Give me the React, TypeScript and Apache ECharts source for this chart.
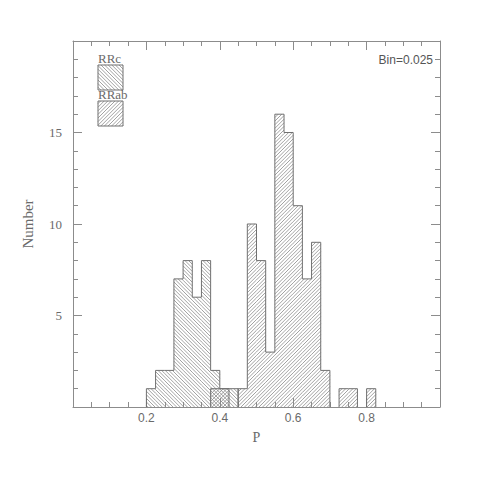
import React, { useEffect, useRef } from 'react';
import * as echarts from 'echarts';

const BIN = 0.025;
const rrcStart = 0.2;
const rrcCounts = [1, 2, 2, 7, 8, 6, 8, 2, 1, 1];
const rrabStart = 0.375;
const rrabCounts = [1, 1, 0, 1, 10, 8, 3, 16, 15, 11, 7, 9, 2, 0, 1, 1, 0, 1];
const xTickLabels = ['0.2', '0.4', '0.6', '0.8'];
const yTickLabels = ['5', '10', '15'];
const legendNames = ['RRc', 'RRab'];
const binText = 'Bin=0.025';

const HATCH = '#8a8a8a';
const OUTLINE = '#707070';
const AXIS = '#8c8c8c';
const TEXT = '#6a6a6a';
const SERIF = '"Liberation Serif", "DejaVu Serif", serif';
const SANS = '"Liberation Sans", "DejaVu Sans", sans-serif';
const SPACING = 3.6;

function hatchLines(xa: number, ya: number, xb: number, yb: number, dir: number) {
  const out: any[] = [];
  if (xb - xa < 0.5 || yb - ya < 0.5) return out;
  if (dir === 1) {
    const n0 = Math.ceil((xa - yb) / SPACING);
    const n1 = Math.floor((xb - ya) / SPACING);
    for (let n = n0; n <= n1; n++) {
      const k = n * SPACING;
      const xs = Math.max(xa, ya + k);
      const xe = Math.min(xb, yb + k);
      if (xe > xs) {
        out.push({
          type: 'line',
          shape: { x1: xs, y1: xs - k, x2: xe, y2: xe - k },
          style: { stroke: HATCH, lineWidth: 0.8 },
          silent: true,
        });
      }
    }
  } else {
    const n0 = Math.ceil((xa + ya) / SPACING);
    const n1 = Math.floor((xb + yb) / SPACING);
    for (let n = n0; n <= n1; n++) {
      const k = n * SPACING;
      const xs = Math.max(xa, k - yb);
      const xe = Math.min(xb, k - ya);
      if (xe > xs) {
        out.push({
          type: 'line',
          shape: { x1: xs, y1: k - xs, x2: xe, y2: k - xe },
          style: { stroke: HATCH, lineWidth: 0.8 },
          silent: true,
        });
      }
    }
  }
  return out;
}

function seg(x1: number, y1: number, x2: number, y2: number) {
  return { type: 'line', shape: { x1, y1, x2, y2 }, style: { stroke: OUTLINE, lineWidth: 1 } };
}

function makeRender(counts: number[], dir: number) {
  return (params: any, api: any) => {
    const i = params.dataIndex;
    const x0 = api.value(0);
    const h = api.value(1);
    const pA = api.coord([x0, 0]);
    const pB = api.coord([x0 + BIN, h]);
    const children: any[] = [];
    if (h > 0) {
      children.push(...hatchLines(pA[0], pB[1], pB[0], pA[1], dir));
      children.push(seg(pA[0], pB[1], pB[0], pB[1]));
    }
    const prevH = i > 0 ? counts[i - 1] : 0;
    if (prevH !== h) {
      const pp = api.coord([x0, prevH]);
      children.push(seg(pA[0], pp[1], pA[0], pB[1]));
    }
    if (i === counts.length - 1 && h > 0) {
      children.push(seg(pB[0], pB[1], pB[0], pA[1]));
    }
    return { type: 'group', children };
  };
}

// legend swatches (pixel layout)
const SW_X = 98;
const SW_W = 25;
const SW_Y = [65, 101];
const TXT_Y = [52, 88];

function legendRender(params: any, api: any) {
  const i = api.value(0);
  const x = SW_X;
  const y = SW_Y[i];
  const dir = i === 0 ? 1 : -1;
  return {
    type: 'group',
    children: [
      ...hatchLines(x, y, x + SW_W, y + SW_W, dir),
      seg(x, y, x + SW_W, y),
      seg(x, y + SW_W, x + SW_W, y + SW_W),
      seg(x, y, x, y + SW_W),
      seg(x + SW_W, y, x + SW_W, y + SW_W),
      {
        type: 'text',
        x,
        y: TXT_Y[i],
        style: { text: legendNames[i], font: `13px ${SERIF}`, fill: TEXT },
      },
    ],
  };
}

export default function App() {
  const ref = useRef<HTMLDivElement>(null);
  useEffect(() => {
    if (!ref.current) return;
    const chart = echarts.init(ref.current, undefined, { renderer: 'svg' });
    const xFmt = (v: number) => {
      const s = v.toFixed(1);
      return xTickLabels.includes(s) ? s : '';
    };
    const yFmt = (v: number) => {
      const s = String(Math.round(v));
      return yTickLabels.includes(s) ? s : '';
    };
    const axisCommon = {
      axisLine: { show: true, onZero: false, lineStyle: { color: AXIS, width: 1 } },
      axisTick: { show: true, inside: true, length: 9, lineStyle: { color: AXIS } },
      minorTick: { show: true, length: 5, lineStyle: { color: AXIS } },
      splitLine: { show: false },
    };
    chart.setOption({
      animation: false,
      backgroundColor: '#fff',
      grid: { left: 73, right: 40, top: 41, bottom: 73 },
      xAxis: [
        {
          type: 'value', min: 0, max: 1, interval: 0.2, position: 'bottom',
          ...axisCommon,
          minorTick: { ...axisCommon.minorTick, splitNumber: 4 },
          axisLabel: { formatter: xFmt, color: TEXT, fontFamily: SANS, fontSize: 12, margin: 5 },
          name: 'P', nameLocation: 'middle', nameGap: 23,
          nameTextStyle: { fontFamily: SERIF, fontSize: 14, color: TEXT },
        },
        {
          type: 'value', min: 0, max: 1, interval: 0.2, position: 'top',
          ...axisCommon,
          minorTick: { ...axisCommon.minorTick, splitNumber: 4 },
          axisLabel: { show: false },
        },
      ],
      yAxis: [
        {
          type: 'value', min: 0, max: 20, interval: 5, position: 'left',
          ...axisCommon,
          minorTick: { ...axisCommon.minorTick, splitNumber: 5 },
          axisLabel: { formatter: yFmt, color: TEXT, fontFamily: SERIF, fontSize: 13, margin: 11 },
          name: 'Number', nameLocation: 'middle', nameGap: 38,
          nameTextStyle: { fontFamily: SERIF, fontSize: 15, color: TEXT },
        },
        {
          type: 'value', min: 0, max: 20, interval: 5, position: 'right',
          ...axisCommon,
          minorTick: { ...axisCommon.minorTick, splitNumber: 5 },
          axisLabel: { show: false },
        },
      ],
      series: [
        {
          name: legendNames[0], type: 'custom', xAxisIndex: 0, yAxisIndex: 0,
          renderItem: makeRender(rrcCounts, 1),
          data: rrcCounts.map((c, i) => [rrcStart + i * BIN, c]),
          clip: false,
        },
        {
          name: legendNames[1], type: 'custom', xAxisIndex: 0, yAxisIndex: 0,
          renderItem: makeRender(rrabCounts, -1),
          data: rrabCounts.map((c, i) => [rrabStart + i * BIN, c]),
          clip: false,
        },
        {
          name: 'legend', type: 'custom', coordinateSystem: 'none',
          renderItem: legendRender,
          data: legendNames.map((_, i) => [i]),
          silent: true,
        },
      ],
      graphic: [
        { type: 'text', right: 47, top: 54, style: { text: binText, font: `12px ${SANS}`, fill: '#555' } },
      ],
    });
    return () => chart.dispose();
  }, []);
  return <div ref={ref} style={{ position: 'fixed', left: 0, top: 0, width: 480, height: 480 }} />;
}
